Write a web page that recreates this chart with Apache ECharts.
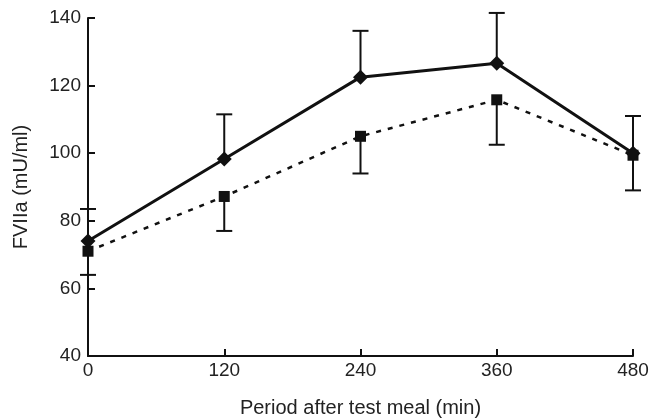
<!DOCTYPE html>
<html>
<head>
<meta charset="utf-8">
<script src="https://cdn.jsdelivr.net/npm/echarts@6/dist/echarts.min.js"></script>
<style>
html,body{margin:0;padding:0;background:#fff;}
#chart{width:664px;height:418px;}
</style>
</head>
<body>
<div id="chart"></div>
<script>
var times = [0, 120, 240, 360, 480];
var solidMean = [74, 98.3, 122.5, 126.6, 100];
var solidUpper = [83.5, 111.5, 136.2, 141.5, 111];
var dashedMean = [71, 87.2, 105, 115.8, 99.4];
var dashedLower = [64, 77, 94, 102.5, 89];
var xTicks = [0, 120, 240, 360, 480];
var yTicks = [40, 60, 80, 100, 120, 140];

var ink = '#111';
var font = 'Liberation Sans';

function pairs(xs, ys){ return xs.map(function(x,i){ return [x, ys[i]]; }); }

function errorSeries(means, ends){
  var data = times.map(function(t,i){ return [t, means[i], ends[i]]; });
  return {
    type: 'custom',
    data: data,
    z: 1,
    renderItem: function(params, api){
      var p0 = api.coord([api.value(0), api.value(1)]);
      var p1 = api.coord([api.value(0), api.value(2)]);
      var hw = 8;
      return {
        type: 'group',
        children: [
          {type:'line', shape:{x1:p0[0], y1:p0[1], x2:p1[0], y2:p1[1]}, style:{stroke:ink, lineWidth:2}},
          {type:'line', shape:{x1:p1[0]-hw, y1:p1[1], x2:p1[0]+hw, y2:p1[1]}, style:{stroke:ink, lineWidth:2}}
        ]
      };
    }
  };
}

var chart = echarts.init(document.getElementById('chart'));
chart.setOption({
  animation: false,
  backgroundColor: '#fff',
  grid: {left: 88, right: 31, top: 18, bottom: 62, containLabel: false, outerBoundsMode: 'none'},
  xAxis: {
    type: 'value', min: xTicks[0], max: xTicks[xTicks.length-1], interval: 120,
    name: 'Period after test meal (min)', nameLocation: 'middle', nameGap: 42,
    nameTextStyle: {fontFamily: font, fontSize: 20, color: '#222'},
    axisLine: {lineStyle: {color: ink, width: 2}},
    axisTick: {inside: true, length: 7, lineStyle: {color: ink, width: 2}},
    axisLabel: {fontFamily: font, fontSize: 19, color: '#222', margin: 5},
    splitLine: {show: false}
  },
  yAxis: {
    type: 'value', min: yTicks[0], max: yTicks[yTicks.length-1], interval: 20,
    name: 'FVIIa (mU/ml)', nameLocation: 'middle', nameGap: 57, nameRotate: 90,
    nameTextStyle: {fontFamily: font, fontSize: 20, color: '#222'},
    axisLine: {lineStyle: {color: ink, width: 2}},
    axisTick: {inside: true, length: 7, lineStyle: {color: ink, width: 2}},
    axisLabel: {fontFamily: font, fontSize: 19, color: '#222', margin: 7},
    splitLine: {show: false}
  },
  series: [
    errorSeries(solidMean, solidUpper),
    errorSeries(dashedMean, dashedLower),
    {
      type: 'line', data: pairs(times, dashedMean), z: 2,
      symbol: 'rect', symbolSize: 11,
      itemStyle: {color: ink},
      lineStyle: {color: ink, width: 2.5, type: [5, 7]}
    },
    {
      type: 'line', data: pairs(times, solidMean), z: 3,
      symbol: 'diamond', symbolSize: 15,
      itemStyle: {color: ink},
      lineStyle: {color: ink, width: 3}
    }
  ]
});
</script>
</body>
</html>
